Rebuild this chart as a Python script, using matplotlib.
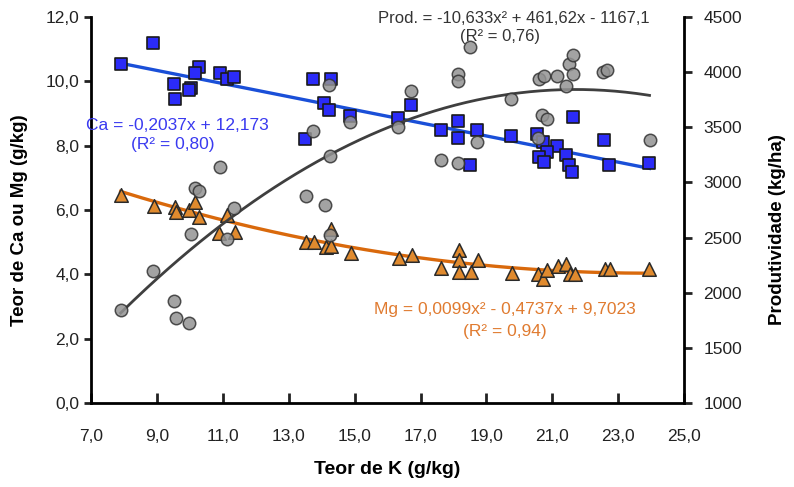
import numpy as np
import matplotlib
matplotlib.use("Agg")
import matplotlib.pyplot as plt
from matplotlib.ticker import FuncFormatter

plt.rcParams['font.family'] = ['Liberation Sans', 'DejaVu Sans']

# Ca (squares, left axis)
ca_k = [7.91, 8.88, 10.27, 10.15, 9.52, 10.05, 9.96, 9.56, 10.90, 11.13, 11.33,
        13.73, 14.27, 14.08, 14.23, 14.86, 13.49, 16.70, 16.33, 17.61, 18.15, 18.15,
        18.72, 18.50, 19.75, 20.55, 20.73, 21.13, 20.85, 20.61, 20.75, 21.42, 21.51,
        21.59, 21.64, 22.58, 22.72, 23.93]
ca = [10.55, 11.19, 10.44, 10.27, 9.91, 9.80, 9.72, 9.44, 10.27, 10.08, 10.13,
      10.08, 10.08, 9.33, 9.12, 8.91, 8.22, 9.28, 8.87, 8.48, 8.77, 8.25,
      8.48, 7.39, 8.30, 8.37, 8.10, 7.98, 7.80, 7.65, 7.49, 7.72, 7.39,
      7.18, 8.89, 8.17, 7.39, 7.46]

# Mg (triangles, left axis)
mg_k = [7.92, 8.90, 9.54, 9.58, 9.98, 10.17, 10.29, 11.13, 10.87, 11.36, 14.28,
        13.52, 13.77, 14.12, 14.28, 14.88, 16.36, 16.73, 17.61, 18.17, 18.17, 18.17,
        18.52, 18.73, 19.77, 20.58, 20.71, 20.83, 21.18, 21.43, 21.54, 21.69, 22.60,
        22.75, 23.94]
mg = [6.48, 6.13, 6.08, 5.94, 6.01, 6.25, 5.79, 5.84, 5.27, 5.32, 5.40,
      5.01, 5.01, 4.84, 4.88, 4.67, 4.52, 4.60, 4.21, 4.75, 4.44, 4.08,
      4.08, 4.46, 4.03, 4.00, 3.87, 4.15, 4.25, 4.32, 4.00, 4.00, 4.16,
      4.16, 4.16]

# Produtividade (circles, right axis)
p_k = [7.92, 8.88, 9.53, 9.58, 9.96, 10.05, 10.15, 10.29, 10.90, 11.13, 11.33,
       13.52, 13.73, 14.10, 14.25, 14.25, 14.23, 14.86, 16.33, 16.70, 17.61, 18.15,
       18.15, 18.15, 18.50, 18.72, 19.75, 20.58, 20.61, 20.68, 20.75, 20.83, 21.15,
       21.42, 21.51, 21.62, 21.64, 22.55, 22.65, 23.95]
prod = [1847, 2197, 1925, 1772, 1721, 2535, 2951, 2920, 3137, 2489, 2770,
        2881, 3469, 2791, 2519, 3243, 3882, 3544, 3505, 3831, 3200, 3177,
        3987, 3921, 4229, 3363, 3756, 3403, 3936, 3614, 3966, 3575, 3966,
        3876, 4072, 3982, 4153, 4005, 4018, 3388]

x_ticks = [7, 9, 11, 13, 15, 17, 19, 21, 23, 25]

fig = plt.figure(figsize=(7.94, 4.87), dpi=100)
ax = fig.add_axes([0.1146, 0.1725, 0.747, 0.7925])
ax2 = ax.twinx()

xs = np.linspace(7.9, 23.95, 200)

ax.plot(xs, -0.2037 * xs + 12.173, color="#1a4fd8", lw=2.4, zorder=2)
ax.plot(xs, 0.0099 * xs**2 - 0.4737 * xs + 9.7023, color="#d9690c", lw=2.4, zorder=2)
ax.scatter(ca_k, ca, marker="s", s=80, facecolor="#2b2bf8", edgecolor="#1a1a1a",
           linewidth=1.2, zorder=3)
ax.scatter(mg_k, mg, marker="^", s=95, facecolor="#e08a2e", edgecolor="#2a2a2a",
           linewidth=1.1, zorder=3)

ax2.plot(xs, -10.633 * xs**2 + 461.62 * xs - 1167.1, color="#3f3f3f", lw=2.0, zorder=2)
ax2.scatter(p_k, prod, marker="o", s=80, facecolor="#939393", edgecolor="#333333",
            linewidth=1.1, alpha=0.85, zorder=3)

ax.set_xlim(7, 25)
ax.set_ylim(0, 12)
ax2.set_ylim(1000, 4500)
ax.set_xticks(x_ticks)
ax.set_yticks(np.arange(0, 12.1, 2))
ax2.set_yticks(np.arange(1000, 4501, 500))

comma = FuncFormatter(lambda v, p: f"{v:.1f}".replace(".", ","))
ax.xaxis.set_major_formatter(comma)
ax.yaxis.set_major_formatter(comma)

for a in (ax, ax2):
    a.spines["top"].set_visible(False)
    for s in ("left", "right", "bottom"):
        a.spines[s].set_linewidth(2)
ax.spines["right"].set_visible(False)
ax2.spines["left"].set_visible(False)
ax2.spines["bottom"].set_visible(False)

ax.tick_params(axis="x", direction="in", length=7, width=2, labelsize=12.5, pad=19,
               colors="#222222")
ax.tick_params(axis="y", direction="out", length=5, width=2, labelsize=12.5,
               colors="#222222")
ax2.tick_params(axis="y", direction="out", length=6, width=2, labelsize=12.5, pad=8,
                colors="#222222")

ax.set_xlabel("Teor de K (g/kg)", fontsize=14, fontweight="bold")
ax.set_ylabel("Teor de Ca ou Mg (g/kg)", fontsize=13.5, fontweight="bold")
ax2.set_ylabel("Produtividade (kg/ha)", fontsize=13.5, fontweight="bold")
ax.xaxis.set_label_coords(0.50, -0.150)
ax.yaxis.set_label_coords(-0.107, 0.474)
ax2.yaxis.set_label_coords(1.143, 0.45)

tk = dict(transform=ax.transAxes, ha="center", va="center", zorder=10)
ax2.text(0.145, 0.720, "Ca = -0,2037x + 12,173", color="#3a3af0", fontsize=12.5, **tk)
ax2.text(0.138, 0.671, "(R² = 0,80)", color="#3a3af0", fontsize=12.5, **tk)
ax2.text(0.713, 0.997, "Prod. = -10,633x² + 461,62x - 1167,1", color="#333333",
         fontsize=12, **tk)
ax2.text(0.690, 0.950, "(R² = 0,76)", color="#333333", fontsize=12, **tk)
ax2.text(0.697, 0.241, "Mg = 0,0099x² - 0,4737x + 9,7023", color="#e07b30",
         fontsize=12.5, **tk)
ax2.text(0.698, 0.184, "(R² = 0,94)", color="#e07b30", fontsize=12.5, **tk)

fig.savefig("out.png", dpi=100)
